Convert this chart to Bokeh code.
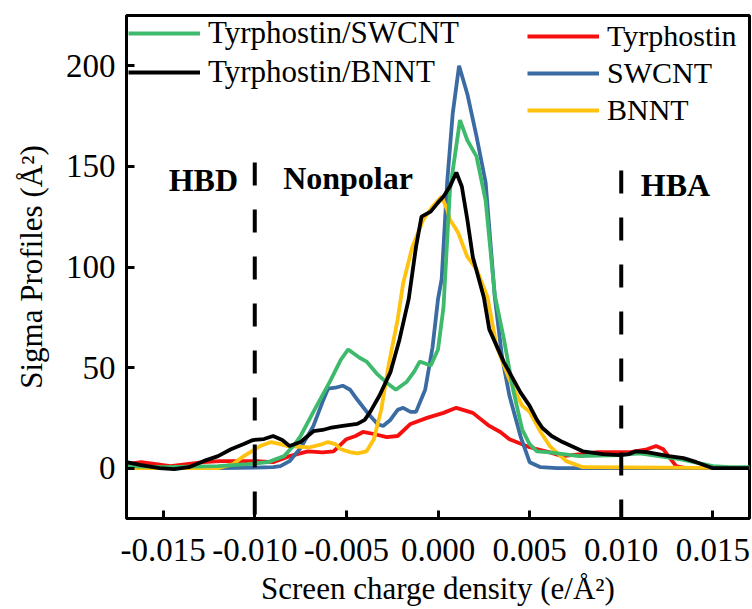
from bokeh.plotting import figure
from bokeh.models import Legend, LegendItem, FixedTicker, NumeralTickFormatter, Range1d
from bokeh.core.properties import value
from bokeh.embed import file_html
from bokeh.resources import INLINE

# ---- data ----
x_swcnt = [-0.017, -0.012, -0.0090, -0.0086, -0.0081, -0.0075, -0.0068, -0.0063, -0.0060, -0.0056,
           -0.0052, -0.0048, -0.0044, -0.0038, -0.0033, -0.0030, -0.0026, -0.0022, -0.0019, -0.0015,
           -0.0012, -0.0007, -0.0003, 0.0000, 0.0002, 0.0005, 0.0008, 0.00115, 0.0016, 0.0021,
           0.0026, 0.0031, 0.0035, 0.0039, 0.0045, 0.0050, 0.0056, 0.0065, 0.017]
y_swcnt = [0, 0, 0.5, 1, 3.5, 10, 21, 33, 39.5, 40,
           41, 39, 34, 27, 22, 21, 24, 29, 30, 28,
           28, 39, 60, 84, 94, 142, 176, 200, 186, 165,
           142, 85, 55, 36, 16, 3, 0.5, 0, 0]

x_tyr_swcnt = [-0.017, -0.015, -0.012, -0.0104, -0.0093, -0.0084, -0.0079, -0.0075, -0.0068, -0.0059,
               -0.0053, -0.0049, -0.0046, -0.0043, -0.0039, -0.0033, -0.0028, -0.0023, -0.0017, -0.0013,
               -0.0010, -0.0007, -0.0004, 0.0000, 0.0003, 0.00065, 0.0012, 0.0016, 0.0021, 0.0026,
               0.0031, 0.0036, 0.0041, 0.0046, 0.0050, 0.0054, 0.0061, 0.0077, 0.0099, 0.0110,
               0.0132, 0.0150, 0.0159, 0.017]
y_tyr_swcnt = [1, 0.5, 1, 2, 3, 6, 11, 16, 28, 43,
               54, 59, 57, 55, 53, 46.6, 42.5, 39, 43, 48,
               53, 52, 51, 59, 80, 138, 173, 163, 155, 133,
               86, 64, 39, 19, 12, 8.4, 7.9, 6, 6.5, 7.4,
               4.5, 1, 0.5, 0.5]

x_tyr_bnnt = [-0.017, -0.0162, -0.0152, -0.0144, -0.0136, -0.0128, -0.0120, -0.0113, -0.0106, -0.0101,
              -0.0095, -0.0090, -0.0085, -0.0081, -0.0075, -0.0068, -0.0063, -0.0059, -0.0052, -0.0044,
              -0.0040, -0.0037, -0.0032, -0.0026, -0.0021, -0.0016, -0.0012, -0.0009, -0.0004, 0.0000,
              0.0003, 0.00065, 0.0010, 0.0013, 0.0016, 0.0019, 0.0025, 0.0028, 0.0036, 0.0045,
              0.0050, 0.0054, 0.0057, 0.0062, 0.0068, 0.0079, 0.0090, 0.0099, 0.0104, 0.0108,
              0.0114, 0.0126, 0.0134, 0.0141, 0.0150, 0.017]
y_tyr_bnnt = [3, 1.5, 0, -0.5, 0.5, 3.5, 6, 9.4, 12, 14,
              14.5, 16, 14, 11, 13, 18.4, 19, 20, 21, 22,
              24, 28, 36, 47.6, 64, 84, 110, 125, 127.5, 132,
              135, 140, 147, 140, 123.6, 105, 85, 69, 52.6, 37.7,
              31, 24, 20, 16, 13, 8.4, 7, 6.5, 7, 8.4,
              8, 6, 5, 3, 0, 0]

x_bnnt = [-0.017, -0.012, -0.0112, -0.0106, -0.0097, -0.0091, -0.0086, -0.0082, -0.0070, -0.0063,
          -0.0060, -0.0056, -0.0053, -0.0048, -0.0044, -0.0039, -0.0035, -0.0031, -0.0027, -0.0022,
          -0.0019, -0.0014, -0.0008, -0.0003, 0.0002, 0.0005, 0.00065, 0.0011, 0.0016, 0.0021,
          0.0027, 0.0032, 0.0039, 0.0046, 0.0050, 0.0056, 0.0061, 0.0070, 0.0079, 0.017]
y_bnnt = [0, 0, 2, 6, 11, 13, 12, 11, 10.4, 12,
          13, 12, 9.4, 8, 7.4, 8.4, 14.4, 29, 51, 74,
          92, 110, 123.6, 130, 135, 128.5, 123.6, 117, 105, 99,
          85, 60.5, 44, 31, 28, 18, 11, 3.5, 0.5, 0]

x_tyr = [-0.017, -0.0162, -0.0154, -0.0146, -0.0137, -0.0128, -0.0119, -0.0104, -0.0099, -0.0090,
         -0.0081, -0.0071, -0.0063, -0.0057, -0.0050, -0.0045, -0.0041, -0.0035, -0.0028, -0.0022,
         -0.0015, -0.0006, 0.0003, 0.0010, 0.0019, 0.0028, 0.0034, 0.0039, 0.0050, 0.0061,
         0.0068, 0.0078, 0.0087, 0.0096, 0.0105, 0.0114, 0.0119, 0.0123, 0.0127, 0.0130,
         0.0135, 0.017]
y_tyr = [2, 3, 2, 1, 2, 3, 3.5, 3.5, 3.5, 3,
         6, 8.4, 7.9, 8.4, 14.4, 16, 18, 17, 15.4, 16,
         22, 25, 27.5, 30, 27.5, 21, 18, 14.4, 10.4, 7.9,
         6, 7, 8, 8, 8, 9.4, 11, 9.4, 4.5, 1,
         0, 0]

x_ticks = [-0.015, -0.010, -0.005, 0.000, 0.005, 0.010, 0.015]
y_ticks = [0, 50, 100, 150, 200]

divider_x = [-0.010, 0.010]
divider_top = [152, 148]

region_labels = ["HBD", "Nonpolar", "HBA"]
region_x = [-0.0147, -0.00845, 0.01107]
region_y = [143, 144, 141]

FONT = "Liberation Serif"

p = figure(width=752, height=608, output_backend="svg", toolbar_location=None,
           x_range=Range1d(-0.017, 0.017), y_range=Range1d(-25, 225),
           min_border_left=126, min_border_right=3, min_border_top=15, min_border_bottom=90,
           x_axis_label="Screen charge density (e/Å²)", y_axis_label="Sigma Profiles (Å²)")

p.xgrid.visible = False
p.ygrid.visible = False
p.outline_line_color = "black"
p.outline_line_width = 3
p.outline_line_alpha = 1

for ax in (p.xaxis[0], p.yaxis[0]):
    ax.axis_line_width = 3
    ax.major_tick_line_width = 3
    ax.major_tick_in = 8
    ax.major_tick_out = 0
    ax.minor_tick_line_color = None
    ax.major_label_text_font = FONT
    ax.major_label_text_font_size = "33px"
    ax.major_label_text_color = "black"
    ax.axis_label_text_font = FONT
    ax.axis_label_text_font_size = "31px"
    ax.axis_label_text_font_style = "normal"
    ax.axis_label_text_color = "black"

p.xaxis[0].ticker = FixedTicker(ticks=x_ticks)
p.xaxis[0].formatter = NumeralTickFormatter(format="0.000")
p.xaxis[0].major_label_standoff = 20
p.xaxis[0].axis_label_standoff = 7
p.yaxis[0].ticker = FixedTicker(ticks=y_ticks)
p.yaxis[0].major_label_standoff = 11
p.yaxis[0].axis_label_standoff = 14

LW = 3.8
r_tyr = p.line(x_tyr, y_tyr, line_color="#F50F0F", line_width=LW)
r_swcnt = p.line(x_swcnt, y_swcnt, line_color="#3A6BA2", line_width=LW)
r_bnnt = p.line(x_bnnt, y_bnnt, line_color="#FFC20E", line_width=LW)
r_ts = p.line(x_tyr_swcnt, y_tyr_swcnt, line_color="#3DBA6C", line_width=LW)
r_tb = p.line(x_tyr_bnnt, y_tyr_bnnt, line_color="black", line_width=LW)

for xd, yt in zip(divider_x, divider_top):
    p.line([xd, xd], [yt, -25], line_color="black", line_width=4, line_dash="23 24")

p.text(x=region_x, y=region_y, text=region_labels, text_font=value(FONT),
       text_font_size="32px", text_font_style="bold", text_color="black",
       text_baseline="alphabetic", text_align="left")

def make_legend(items, loc, pad, size):
    lg = Legend(items=items, location=loc, orientation="vertical",
                label_text_font=FONT, label_text_font_size=size, label_text_color="black",
                label_height=34, glyph_height=34, glyph_width=72, label_standoff=8,
                spacing=3, padding=pad, margin=0,
                background_fill_alpha=0, border_line_alpha=0)
    return lg

leg1 = make_legend([LegendItem(label="Tyrphostin/SWCNT", renderers=[r_ts]),
                    LegendItem(label="Tyrphostin/BNNT", renderers=[r_tb])], (0, 426), 2, "31px")
leg2 = make_legend([LegendItem(label="Tyrphostin", renderers=[r_tyr]),
                    LegendItem(label="SWCNT", renderers=[r_swcnt]),
                    LegendItem(label="BNNT", renderers=[r_bnnt])], (401, 391), 0, "30px")
p.add_layout(leg1)
p.add_layout(leg2)

open("out.html", "w").write(file_html(p, INLINE))
